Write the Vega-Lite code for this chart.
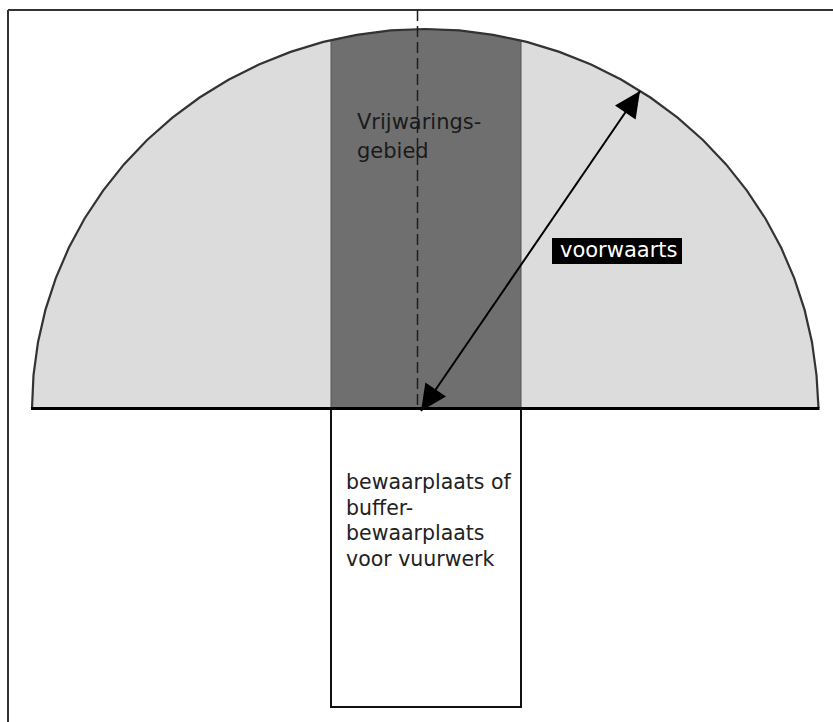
{
  "$schema": "https://vega.github.io/schema/vega-lite/v6.json",
  "width": 833,
  "height": 722,
  "padding": 0,
  "autosize": {"type": "none"},
  "background": "white",
  "config": {"view": {"stroke": null}},
  "datasets": {
    "arc": [
      {"x": 32, "y": 408}, {"x": 33.5, "y": 375}, {"x": 38, "y": 342.2}, {"x": 45.4, "y": 309.9},
      {"x": 55.7, "y": 278.4}, {"x": 68.8, "y": 247.8}, {"x": 84.6, "y": 218.5}, {"x": 103.1, "y": 190.6},
      {"x": 123.9, "y": 164.4}, {"x": 147.1, "y": 140}, {"x": 172.4, "y": 117.7}, {"x": 199.6, "y": 97.5},
      {"x": 228.5, "y": 79.8}, {"x": 258.9, "y": 64.5}, {"x": 290.6, "y": 51.9}, {"x": 323.3, "y": 41.9},
      {"x": 356.8, "y": 34.8}, {"x": 390.7, "y": 30.4}, {"x": 425, "y": 29}, {"x": 459.3, "y": 30.4},
      {"x": 493.2, "y": 34.8}, {"x": 526.7, "y": 41.9}, {"x": 559.4, "y": 51.9}, {"x": 591.1, "y": 64.5},
      {"x": 621.5, "y": 79.8}, {"x": 650.4, "y": 97.5}, {"x": 677.6, "y": 117.7}, {"x": 702.9, "y": 140},
      {"x": 726.1, "y": 164.4}, {"x": 746.9, "y": 190.6}, {"x": 765.4, "y": 218.5}, {"x": 781.2, "y": 247.8},
      {"x": 794.3, "y": 278.4}, {"x": 804.6, "y": 309.9}, {"x": 812, "y": 342.2}, {"x": 816.5, "y": 375},
      {"x": 818.5, "y": 408}
    ],
    "band": [
      {"x": 331, "y": 40}, {"x": 356.8, "y": 34.8}, {"x": 390.7, "y": 30.4}, {"x": 425, "y": 29},
      {"x": 459.3, "y": 30.4}, {"x": 493.2, "y": 34.8}, {"x": 521, "y": 40.5}
    ],
    "segments": [
      {"part": "frame", "x": 8, "y": 10, "x2": 833, "y2": 10},
      {"part": "frame", "x": 8, "y": 10, "x2": 8, "y2": 722},
      {"part": "baseline", "x": 31, "y": 408.5, "x2": 819.5, "y2": 408.5},
      {"part": "axis", "x": 417.5, "y": 10, "x2": 417.5, "y2": 408},
      {"part": "arrow", "x": 421, "y": 411, "x2": 640, "y2": 91}
    ],
    "boxes": [
      {"part": "storage", "x": 331, "x2": 521, "y": 408, "y2": 707},
      {"part": "tag", "x": 552, "x2": 682, "y": 238, "y2": 264}
    ],
    "tips": [
      {"part": "top", "x": 640, "y": 91},
      {"part": "bottom", "x": 421, "y": 411}
    ],
    "labels": [
      {"group": "band", "text": "Vrijwarings-", "x": 357, "y": 129},
      {"group": "band", "text": "gebied", "x": 357, "y": 158},
      {"group": "tag", "text": "voorwaarts", "x": 560, "y": 257},
      {"group": "store", "text": "bewaarplaats of", "x": 346, "y": 488.5},
      {"group": "store", "text": "buffer-", "x": 346, "y": 514.5},
      {"group": "store", "text": "bewaarplaats", "x": 346, "y": 540},
      {"group": "store", "text": "voor vuurwerk", "x": 346, "y": 565.5}
    ]
  },
  "encoding": {
    "x": {"field": "x", "type": "quantitative", "scale": {"domain": [0, 833], "nice": false, "zero": false}, "axis": null},
    "y": {"field": "y", "type": "quantitative", "scale": {"domain": [0, 722], "reverse": true, "nice": false, "zero": false}, "axis": null}
  },
  "layer": [
    {
      "data": {"name": "arc"},
      "mark": {"type": "area", "color": "#dcdcdc", "opacity": 1},
      "encoding": {"y2": {"datum": 408}}
    },
    {
      "data": {"name": "band"},
      "mark": {"type": "area", "color": "#6f6f6f", "opacity": 1, "stroke": "#555555", "strokeWidth": 1},
      "encoding": {"y2": {"datum": 408}}
    },
    {
      "data": {"name": "arc"},
      "mark": {"type": "line", "color": "#333333", "strokeWidth": 2.2},
      "encoding": {}
    },
    {
      "data": {"name": "boxes"},
      "transform": [{"filter": "datum.part === 'storage'"}],
      "mark": {"type": "rect", "fill": "white", "stroke": "#111111", "strokeWidth": 2},
      "encoding": {"x2": {"field": "x2"}, "y2": {"field": "y2"}}
    },
    {
      "data": {"name": "segments"},
      "transform": [{"filter": "datum.part === 'frame'"}],
      "mark": {"type": "rule", "color": "#333333", "strokeWidth": 2},
      "encoding": {"x2": {"field": "x2"}, "y2": {"field": "y2"}}
    },
    {
      "data": {"name": "segments"},
      "transform": [{"filter": "datum.part === 'axis'"}],
      "mark": {"type": "rule", "color": "#1e1e1e", "strokeWidth": 1.5, "strokeDash": [11, 5]},
      "encoding": {"x2": {"field": "x2"}, "y2": {"field": "y2"}}
    },
    {
      "data": {"name": "segments"},
      "transform": [{"filter": "datum.part === 'baseline'"}],
      "mark": {"type": "rule", "color": "#000000", "strokeWidth": 3},
      "encoding": {"x2": {"field": "x2"}, "y2": {"field": "y2"}}
    },
    {
      "data": {"name": "segments"},
      "transform": [{"filter": "datum.part === 'arrow'"}],
      "mark": {"type": "rule", "color": "#000000", "strokeWidth": 2},
      "encoding": {"x2": {"field": "x2"}, "y2": {"field": "y2"}}
    },
    {
      "data": {"name": "tips"},
      "transform": [{"filter": "datum.part === 'top'"}],
      "mark": {"type": "point", "shape": "M0,0L-0.48,1L0.48,1Z", "size": 2704, "filled": true, "color": "#000000", "opacity": 1, "strokeWidth": 0, "angle": 34.4},
      "encoding": {}
    },
    {
      "data": {"name": "tips"},
      "transform": [{"filter": "datum.part === 'bottom'"}],
      "mark": {"type": "point", "shape": "M0,0L-0.48,1L0.48,1Z", "size": 2704, "filled": true, "color": "#000000", "opacity": 1, "strokeWidth": 0, "angle": 214.4},
      "encoding": {}
    },
    {
      "data": {"name": "boxes"},
      "transform": [{"filter": "datum.part === 'tag'"}],
      "mark": {"type": "rect", "fill": "#000000"},
      "encoding": {"x2": {"field": "x2"}, "y2": {"field": "y2"}}
    },
    {
      "data": {"name": "labels"},
      "transform": [{"filter": "datum.group === 'band'"}],
      "mark": {"type": "text", "align": "left", "baseline": "alphabetic", "font": "DejaVu Sans", "fontSize": 21, "color": "#1a1a1a"},
      "encoding": {"text": {"field": "text"}}
    },
    {
      "data": {"name": "labels"},
      "transform": [{"filter": "datum.group === 'tag'"}],
      "mark": {"type": "text", "align": "left", "baseline": "alphabetic", "font": "DejaVu Sans", "fontSize": 21, "color": "#ffffff"},
      "encoding": {"text": {"field": "text"}}
    },
    {
      "data": {"name": "labels"},
      "transform": [{"filter": "datum.group === 'store'"}],
      "mark": {"type": "text", "align": "left", "baseline": "alphabetic", "font": "DejaVu Sans", "fontSize": 20.5, "color": "#222222"},
      "encoding": {"text": {"field": "text"}}
    }
  ]
}
